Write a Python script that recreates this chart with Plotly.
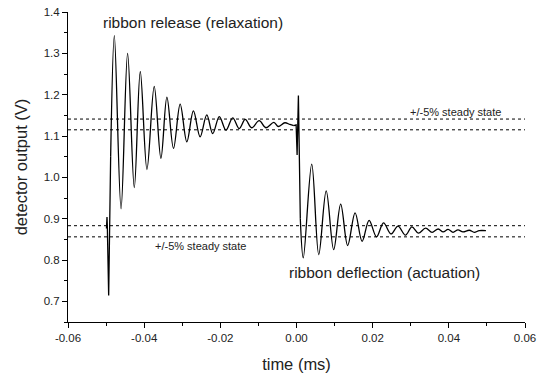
import plotly.graph_objects as go

# ---- data ----
# release spike (drawn straight)
spike1_t = [-0.04990, -0.04976, -0.04968, -0.04932, -0.04880]
spike1_v = [0.876, 0.904, 0.885, 0.714, 1.050]

# release ringing (extrema)
ring1_t = [-0.04880, -0.04783, -0.04607, -0.04435, -0.04259, -0.04102, -0.03927, -0.03736,
           -0.03560, -0.03403, -0.03230, -0.03055, -0.02880, -0.02707, -0.02531, -0.02356,
           -0.02199, -0.02026, -0.01851, -0.01675, -0.01503, -0.01346, -0.01178, -0.00979,
           -0.00804, -0.00594, -0.00482, -0.00306, -0.00175, -0.00071]
ring1_v = [1.050, 1.343, 0.924, 1.300, 0.975, 1.256, 1.019, 1.220,
           1.046, 1.194, 1.070, 1.177, 1.086, 1.161, 1.098, 1.151,
           1.106, 1.147, 1.114, 1.144, 1.118, 1.140, 1.120, 1.137,
           1.120, 1.133, 1.123, 1.132, 1.128, 1.125]

# actuation spike (drawn straight)
spike2_t = [-0.00071, -0.00010, 0.00016, 0.00050, 0.00100]
spike2_v = [1.125, 1.127, 1.054, 1.198, 0.900]

# actuation ringing (extrema)
ring2_t = [0.00100, 0.00178, 0.00400, 0.00584, 0.00780, 0.00976, 0.01160, 0.01343, 0.01539,
           0.01723, 0.01906, 0.02102, 0.02285, 0.02482, 0.02665, 0.02861, 0.03031,
           0.03200, 0.03390, 0.03560, 0.03720, 0.03850, 0.03980, 0.04110, 0.04240,
           0.04370, 0.04537, 0.04668, 0.04798, 0.04974]
ring2_v = [0.900, 0.805, 1.032, 0.813, 0.967, 0.825, 0.935, 0.835, 0.914,
           0.845, 0.896, 0.856, 0.890, 0.863, 0.882, 0.860, 0.880,
           0.865, 0.877, 0.867, 0.875, 0.868, 0.874, 0.867, 0.873,
           0.868, 0.872, 0.867, 0.871, 0.871]

band_levels = [1.141, 1.115, 0.883, 0.856]

x_ticks = [-0.06, -0.04, -0.02, 0.00, 0.02, 0.04, 0.06]
x_labels = ["-0.06", "-0.04", "-0.02", "0.00", "0.02", "0.04", "0.06"]
y_ticks = [0.7, 0.8, 0.9, 1.0, 1.1, 1.2, 1.3, 1.4]
y_labels = ["0.7", "0.8", "0.9", "1.0", "1.1", "1.2", "1.3", "1.4"]

FONT = "Liberation Sans, Arial, sans-serif"
fig = go.Figure()

for lv in band_levels:
    fig.add_trace(go.Scatter(x=[-0.06, 0.06], y=[lv, lv], mode="lines",
                             line=dict(color="black", width=1, dash="dot"),
                             hoverinfo="skip", showlegend=False))

for tt, vv, shape in [(spike1_t, spike1_v, "linear"), (ring1_t, ring1_v, "spline"),
                      (spike2_t, spike2_v, "linear"), (ring2_t, ring2_v, "spline")]:
    fig.add_trace(go.Scatter(x=tt, y=vv, mode="lines",
                             line=dict(color="black", width=1.3, shape=shape, smoothing=1.0),
                             showlegend=False))

ann = [
    ("ribbon release (relaxation)", -0.0273, 1.375, 15.5),
    ("ribbon deflection (actuation)", 0.0231, 0.769, 15.5),
    ("+/-5% steady state", 0.0418, 1.157, 11),
    ("+/-5% steady state", -0.0251, 0.834, 11),
]
for text, x, y, s in ann:
    fig.add_annotation(x=x, y=y, xref="x", yref="y", text=text, showarrow=False,
                       font=dict(family=FONT, size=s, color="#222"))

fig.update_layout(
    width=542, height=377,
    margin=dict(l=67.5, r=16.3, t=6, b=55),
    paper_bgcolor="white", plot_bgcolor="white",
    font=dict(family=FONT, size=11.5, color="#222"),
    showlegend=False,
)
fig.update_xaxes(range=[-0.06, 0.06], tickvals=x_ticks, ticktext=x_labels,
                 showline=True, linecolor="black", linewidth=1, showgrid=False, zeroline=False,
                 ticks="outside", ticklen=5, tickcolor="black", tickfont=dict(size=11.5),
                 minor=dict(dtick=0.01, ticks="outside", ticklen=3, tickcolor="black", showgrid=False),
                 title=dict(text="time (ms)", font=dict(size=16.5), standoff=15))
fig.update_yaxes(range=[0.65, 1.4], tickvals=y_ticks, ticktext=y_labels,
                 showline=True, linecolor="black", linewidth=1, showgrid=False, zeroline=False,
                 ticks="outside", ticklen=5, tickcolor="black", tickfont=dict(size=11.5),
                 minor=dict(dtick=0.05, tick0=0.65, ticks="outside", ticklen=3, tickcolor="black", showgrid=False),
                 title=dict(text="detector output (V)", font=dict(size=16.5), standoff=11))

fig.write_html("out.html", config={"displayModeBar": False},
               post_script="document.body.style.margin='0';")
